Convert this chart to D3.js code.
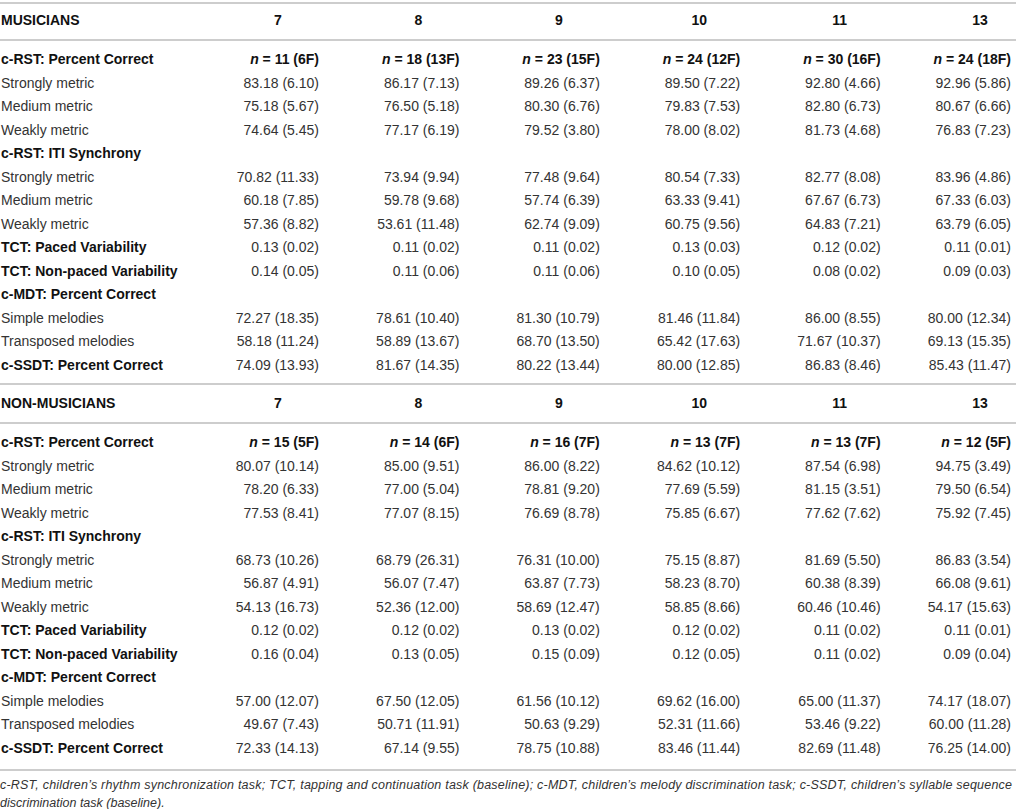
<!DOCTYPE html>
<html>
<head>
<meta charset="utf-8">
<script src="https://cdn.jsdelivr.net/npm/d3@7"></script>
<style>
  body { margin: 0; background: #fff; }
  svg { display: block; font-family: "Liberation Sans", Arial, sans-serif; }
  .cell { font-size: 14px; fill: #333; }
  .bold { font-weight: bold; fill: #111; }
  .note { font-size: 12.5px; font-style: italic; fill: #333; }
</style>
</head>
<body>
<svg id="table"></svg>
<script>
// column headers (age in years)
const ages = ["7", "8", "9", "10", "11", "13"];

// row labels, null values mean a sub-heading row (bold)
const rowLabels = [
  "c-RST: Percent Correct", "Strongly metric", "Medium metric", "Weakly metric",
  "c-RST: ITI Synchrony", "Strongly metric", "Medium metric", "Weakly metric",
  "TCT: Paced Variability", "TCT: Non-paced Variability",
  "c-MDT: Percent Correct", "Simple melodies", "Transposed melodies",
  "c-SSDT: Percent Correct"
];
const boldRows = [0, 4, 8, 9, 10, 13];

// musicians
const musN = [11, 18, 23, 24, 30, 24];
const musF = [6, 13, 15, 12, 16, 18];
const musMeans = [
  null,
  [83.18, 86.17, 89.26, 89.50, 92.80, 92.96],
  [75.18, 76.50, 80.30, 79.83, 82.80, 80.67],
  [74.64, 77.17, 79.52, 78.00, 81.73, 76.83],
  null,
  [70.82, 73.94, 77.48, 80.54, 82.77, 83.96],
  [60.18, 59.78, 57.74, 63.33, 67.67, 67.33],
  [57.36, 53.61, 62.74, 60.75, 64.83, 63.79],
  [0.13, 0.11, 0.11, 0.13, 0.12, 0.11],
  [0.14, 0.11, 0.11, 0.10, 0.08, 0.09],
  null,
  [72.27, 78.61, 81.30, 81.46, 86.00, 80.00],
  [58.18, 58.89, 68.70, 65.42, 71.67, 69.13],
  [74.09, 81.67, 80.22, 80.00, 86.83, 85.43]
];
const musSDs = [
  null,
  [6.10, 7.13, 6.37, 7.22, 4.66, 5.86],
  [5.67, 5.18, 6.76, 7.53, 6.73, 6.66],
  [5.45, 6.19, 3.80, 8.02, 4.68, 7.23],
  null,
  [11.33, 9.94, 9.64, 7.33, 8.08, 4.86],
  [7.85, 9.68, 6.39, 9.41, 6.73, 6.03],
  [8.82, 11.48, 9.09, 9.56, 7.21, 6.05],
  [0.02, 0.02, 0.02, 0.03, 0.02, 0.01],
  [0.05, 0.06, 0.06, 0.05, 0.02, 0.03],
  null,
  [18.35, 10.40, 10.79, 11.84, 8.55, 12.34],
  [11.24, 13.67, 13.50, 17.63, 10.37, 15.35],
  [13.93, 14.35, 13.44, 12.85, 8.46, 11.47]
];

// non-musicians
const nonN = [15, 14, 16, 13, 13, 12];
const nonF = [5, 6, 7, 7, 7, 5];
const nonMeans = [
  null,
  [80.07, 85.00, 86.00, 84.62, 87.54, 94.75],
  [78.20, 77.00, 78.81, 77.69, 81.15, 79.50],
  [77.53, 77.07, 76.69, 75.85, 77.62, 75.92],
  null,
  [68.73, 68.79, 76.31, 75.15, 81.69, 86.83],
  [56.87, 56.07, 63.87, 58.23, 60.38, 66.08],
  [54.13, 52.36, 58.69, 58.85, 60.46, 54.17],
  [0.12, 0.12, 0.13, 0.12, 0.11, 0.11],
  [0.16, 0.13, 0.15, 0.12, 0.11, 0.09],
  null,
  [57.00, 67.50, 61.56, 69.62, 65.00, 74.17],
  [49.67, 50.71, 50.63, 52.31, 53.46, 60.00],
  [72.33, 67.14, 78.75, 83.46, 82.69, 76.25]
];
const nonSDs = [
  null,
  [10.14, 9.51, 8.22, 10.12, 6.98, 3.49],
  [6.33, 5.04, 9.20, 5.59, 3.51, 6.54],
  [8.41, 8.15, 8.78, 6.67, 7.62, 7.45],
  null,
  [10.26, 26.31, 10.00, 8.87, 5.50, 3.54],
  [4.91, 7.47, 7.73, 8.70, 8.39, 9.61],
  [16.73, 12.00, 12.47, 8.66, 10.46, 15.63],
  [0.02, 0.02, 0.02, 0.02, 0.02, 0.01],
  [0.04, 0.05, 0.09, 0.05, 0.02, 0.04],
  null,
  [12.07, 12.05, 10.12, 16.00, 11.37, 18.07],
  [7.43, 11.91, 9.29, 11.66, 9.22, 11.28],
  [14.13, 9.55, 10.88, 11.44, 11.48, 14.00]
];

const footnote = [
  "c-RST, children\u2019s rhythm synchronization task; TCT, tapping and continuation task (baseline); c-MDT, children\u2019s melody discrimination task; c-SSDT, children\u2019s syllable sequence",
  "discrimination task (baseline)."
];

const W = 1016, H = 809;
const svg = d3.select('#table').attr('width', W).attr('height', H);

const fmt = d3.format('.2f');
const x = d3.scalePoint().domain(ages).range([278, 980]);   // header centres
const RIGHT = 41;                                            // values are right aligned
const rightEdge = d => Math.min(x(d) + RIGHT, W - 5);        // last column sits at the page edge
const yRow = d3.scaleLinear().domain([0, 13]).range([59.5, 365]);

const groups = [
  { title: 'MUSICIANS', n: musN, f: musF, means: musMeans, sds: musSDs, top: 0 },
  { title: 'NON-MUSICIANS', n: nonN, f: nonF, means: nonMeans, sds: nonSDs, top: 383 }
];

function hline(y) {
  svg.append('line')
    .attr('x1', 0).attr('x2', W)
    .attr('y1', y).attr('y2', y)
    .attr('stroke', '#bdbdbd').attr('stroke-width', 1.5);
}

groups.forEach(function(grp) {
  const g = svg.append('g').attr('transform', `translate(0, ${grp.top})`);

  // header row
  g.append('text').attr('class', 'cell bold')
    .attr('x', 1).attr('y', 20).attr('dy', '0.35em')
    .text(grp.title);
  g.selectAll('.age')
    .data(ages)
    .enter()
    .append('text')
    .attr('class', 'cell bold age')
    .attr('x', d => x(d)).attr('y', 20).attr('dy', '0.35em')
    .attr('text-anchor', 'middle')
    .text(d => d);

  // row labels
  g.selectAll('.label')
    .data(rowLabels)
    .enter()
    .append('text')
    .attr('class', (d, i) => boldRows.includes(i) ? 'cell bold label' : 'cell label')
    .attr('x', 1)
    .attr('y', (d, i) => yRow(i)).attr('dy', '0.35em')
    .text(d => d);

  // sample sizes on the first row
  const nText = g.selectAll('.ntext')
    .data(ages)
    .enter()
    .append('text')
    .attr('class', 'cell bold ntext')
    .attr('x', d => rightEdge(d)).attr('y', yRow(0)).attr('dy', '0.35em')
    .attr('text-anchor', 'end');
  nText.append('tspan').attr('font-style', 'italic').text('n');
  nText.append('tspan').text((d, i) => ` = ${grp.n[i]} (${grp.f[i]}F)`);

  // mean (sd) cells
  grp.means.forEach(function(row, ri) {
    if (!row) return;
    g.selectAll('.v' + ri)
      .data(row)
      .enter()
      .append('text')
      .attr('class', 'cell v' + ri)
      .attr('x', (d, i) => rightEdge(ages[i]))
      .attr('y', yRow(ri)).attr('dy', '0.35em')
      .attr('text-anchor', 'end')
      .text((d, i) => `${fmt(d)} (${fmt(grp.sds[ri][i])})`);
  });
});

hline(3);
hline(40);
hline(384);
hline(423);
hline(770);

svg.selectAll('.note')
  .data(footnote)
  .enter()
  .append('text')
  .attr('class', 'note')
  .attr('x', 0)
  .attr('y', (d, i) => 785 + i * 17.5).attr('dy', '0.35em')
  .attr('textLength', (d, i) => i === 0 ? 1012 : null)
  .attr('lengthAdjust', 'spacing')
  .text(d => d);
</script>
</body>
</html>
